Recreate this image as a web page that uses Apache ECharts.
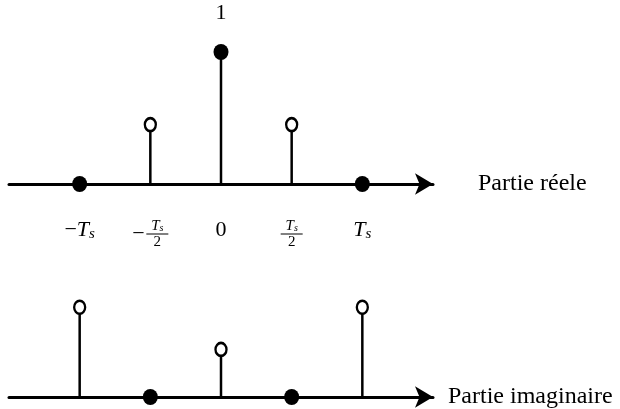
<!DOCTYPE html>
<html>
<head>
<meta charset="utf-8">
<script src="https://cdn.jsdelivr.net/npm/echarts@6/dist/echarts.min.js"></script>
<style>
  html, body { margin: 0; padding: 0; background: #fff; }
  #main { width: 620px; height: 409px; }
</style>
</head>
<body>
<div id="main"></div>
<script>
// positions des raies (en unités de Ts)
var positions = [-1, -0.5, 0, 0.5, 1];
var tickLabels = ['-Ts', '-Ts/2', '0', 'Ts/2', 'Ts'];
// partie réelle
var realValues = [0, 0.45, 1, 0.45, 0];
var realFilled = [true, false, true, false, true];
// partie imaginaire
var imagValues = [0.68, 0, 0.36, 0, 0.68];
var imagFilled = [false, true, false, true, false];
var peakLabel = '1';

var SERIF = 'Liberation Serif';

function richLabel(txt) {
  if (txt === '0') return '{n|0}';
  if (txt === '-Ts') return '{m|\u2212}{t|T}{s|s}';
  if (txt === 'Ts') return '{t|T}{s|s}';
  // fraction : numérateur / barre / dénominateur
  if (txt === 'Ts/2') return '{gap|}\n{ft|T}{fs|s}\n{bar|}\n{fd|2}';
  if (txt === '-Ts/2') return '{gap|}\n{sp|}{ft|T}{fs|s}\n{mn|\u2212}{bar|}\n{sp|}{fd|2}';
  return txt;
}

function stemData(vals) {
  return positions.map(function (p, i) { return [p, vals[i]]; });
}

function dotData(vals, filled, withPeak) {
  return positions.map(function (p, i) {
    var f = filled[i];
    var item = {
      value: [p, vals[i]],
      symbolSize: f ? [15, 16] : [11, 13],
      itemStyle: {
        color: f ? '#000' : '#fff',
        borderColor: '#000',
        borderWidth: f ? 0 : 2.5,
        opacity: 1
      }
    };
    if (withPeak && vals[i] === 1) {
      item.label = {
        show: true, position: 'top', distance: 20,
        formatter: peakLabel, color: '#000',
        fontFamily: SERIF, fontSize: 22
      };
    }
    return item;
  });
}

var chart = echarts.init(document.getElementById('main'));

function xAxisCfg(idx, name, gap, showLabels) {
  return {
    type: 'value', gridIndex: idx, min: -1.5, max: 1.5, interval: 0.5,
    name: name, nameLocation: 'end', nameGap: gap,
    nameTextStyle: { color: '#000', fontFamily: SERIF, fontSize: 24, align: 'left', verticalAlign: 'middle' },
    axisLine: {
      show: true, onZero: false,
      symbol: ['none', 'arrow'], symbolSize: [16, 18], symbolOffset: [0, 0],
      lineStyle: { color: '#000', width: 3 }
    },
    axisTick: { show: false },
    splitLine: { show: false },
    axisLabel: {
      show: showLabels, margin: 46, color: '#000', verticalAlign: 'middle',
      formatter: function (v) {
        var k = positions.indexOf(v);
        return k < 0 ? '' : richLabel(tickLabels[k]);
      },
      rich: {
        n: { fontFamily: SERIF, fontSize: 22, lineHeight: 24 },
        m: { fontFamily: SERIF, fontSize: 22, lineHeight: 24 },
        t: { fontFamily: SERIF, fontSize: 22, fontStyle: 'italic', lineHeight: 24 },
        s: { fontFamily: SERIF, fontSize: 15, fontStyle: 'italic', lineHeight: 24, padding: [9, 0, 0, 0] },
        gap: { width: 1, height: 1, lineHeight: 8 },
        ft: { fontFamily: SERIF, fontSize: 15, fontStyle: 'italic', lineHeight: 14 },
        fs: { fontFamily: SERIF, fontSize: 10, fontStyle: 'italic', lineHeight: 14, padding: [5, 0, 0, 0] },
        fd: { fontFamily: SERIF, fontSize: 15, lineHeight: 14, width: 22, align: 'center' },
        bar: { width: 22, height: 1, backgroundColor: '#000', lineHeight: 2 },
        mn: { fontFamily: SERIF, fontSize: 22, lineHeight: 2, width: 14, align: 'left' },
        sp: { width: 14, height: 1, lineHeight: 1 }
      }
    }
  };
}

function yAxisCfg(idx) {
  return {
    type: 'value', gridIndex: idx, min: 0, max: 1,
    show: false, splitLine: { show: false }
  };
}

chart.setOption({
  animation: false,
  backgroundColor: '#fff',
  grid: [
    { left: 9, right: 187, top: 52, height: 132 },
    { left: 9, right: 187, top: 265, height: 132 }
  ],
  xAxis: [
    xAxisCfg(0, 'Partie réele', 45, true),
    xAxisCfg(1, 'Partie imaginaire', 15, false)
  ],
  yAxis: [yAxisCfg(0), yAxisCfg(1)],
  series: [
    {
      type: 'bar', xAxisIndex: 0, yAxisIndex: 0, barWidth: 2.5,
      itemStyle: { color: '#000' }, data: stemData(realValues), z: 2
    },
    {
      type: 'scatter', xAxisIndex: 0, yAxisIndex: 0, clip: false,
      symbol: 'circle', data: dotData(realValues, realFilled, true), z: 5
    },
    {
      type: 'bar', xAxisIndex: 1, yAxisIndex: 1, barWidth: 2.5,
      itemStyle: { color: '#000' }, data: stemData(imagValues), z: 2
    },
    {
      type: 'scatter', xAxisIndex: 1, yAxisIndex: 1, clip: false,
      symbol: 'circle', data: dotData(imagValues, imagFilled, false), z: 5
    }
  ]
});
</script>
</body>
</html>
